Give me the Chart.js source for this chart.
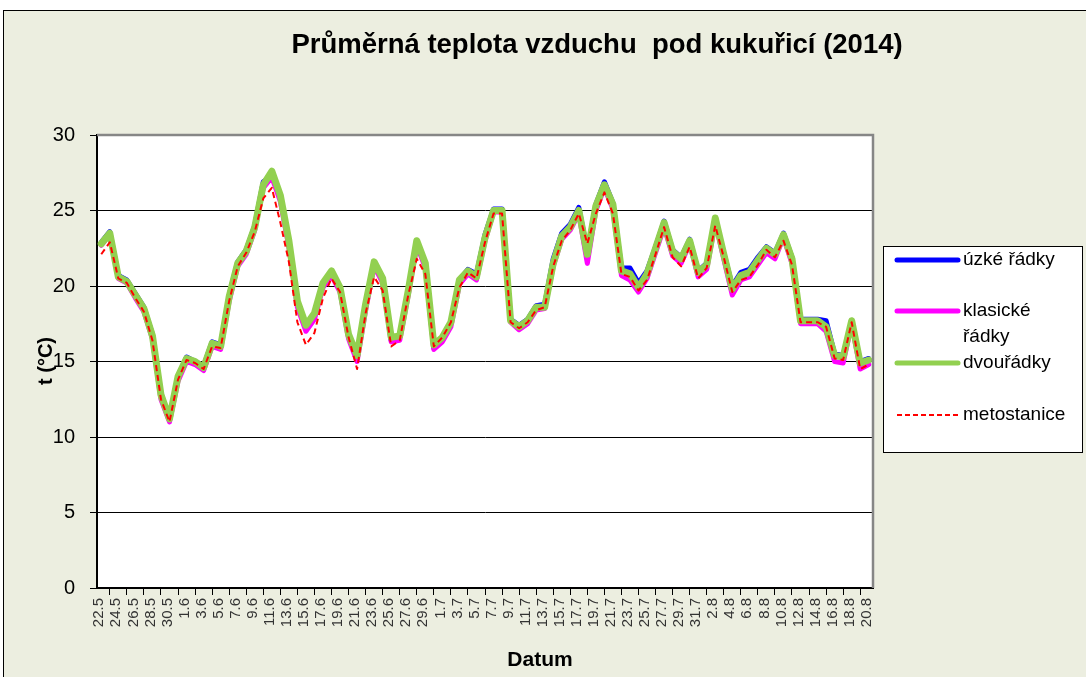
<!DOCTYPE html>
<html lang="cs">
<head>
<meta charset="utf-8">
<title>Průměrná teplota vzduchu pod kukuřicí (2014)</title>
<script src="https://cdn.jsdelivr.net/npm/chart.js@4.4.1/dist/chart.umd.min.js"></script>
<style>
  html, body { margin: 0; padding: 0; background: #fff; }
  #frame { position: absolute; left: 3px; top: 10px; width: 1083px; height: 667px; background: #ECEEE0; border-top: 1px solid #000; border-left: 1px solid #000; box-sizing: border-box; }
  #chart { position: absolute; left: 0; top: 0; }
</style>
</head>
<body>
<div id="frame"></div>
<canvas id="chart" width="1086" height="677"></canvas>
<script>
// ==================== DATA ====================
const dates = [
  '22.5','23.5','24.5','25.5','26.5','27.5','28.5','29.5','30.5','31.5',
  '1.6','2.6','3.6','4.6','5.6','6.6','7.6','8.6','9.6','10.6',
  '11.6','12.6','13.6','14.6','15.6','16.6','17.6','18.6','19.6','20.6',
  '21.6','22.6','23.6','24.6','25.6','26.6','27.6','28.6','29.6','30.6',
  '1.7','2.7','3.7','4.7','5.7','6.7','7.7','8.7','9.7','10.7',
  '11.7','12.7','13.7','14.7','15.7','16.7','17.7','18.7','19.7','20.7',
  '21.7','22.7','23.7','24.7','25.7','26.7','27.7','28.7','29.7','30.7',
  '31.7','1.8','2.8','3.8','4.8','5.8','6.8','7.8','8.8','9.8',
  '10.8','11.8','12.8','13.8','14.8','15.8','16.8','17.8','18.8','19.8',
  '20.8'
];

const uzkeRadky = [
  22.9, 23.6, 20.7, 20.4, 19.5, 18.6, 16.8, 12.9, 11.2, 14.0,
  15.3, 15.0, 14.7, 16.3, 16.1, 19.4, 21.6, 22.4, 24.0, 26.9,
  27.3, 25.9, 22.9, 18.9, 17.2, 18.0, 20.1, 20.9, 19.8, 16.7,
  15.2, 18.6, 21.5, 20.4, 16.4, 16.6, 19.6, 22.9, 21.4, 15.9,
  16.5, 17.6, 20.4, 21.1, 20.8, 23.4, 25.1, 25.1, 17.8, 17.4,
  17.8, 18.7, 18.8, 21.8, 23.5, 24.1, 25.2, 22.3, 25.4, 26.9,
  25.5, 21.2, 21.2, 20.2, 21.0, 22.6, 24.3, 22.4, 21.9, 23.1,
  21.0, 21.5, 24.5, 22.2, 20.0, 20.9, 21.1, 21.9, 22.6, 22.2,
  23.5, 21.9, 17.8, 17.8, 17.8, 17.7, 15.5, 15.4, 17.7, 15.0,
  15.2
];

const klasickeRadky = [
  22.7, 23.4, 20.5, 20.2, 19.2, 18.3, 16.5, 12.5, 11.0, 13.7,
  15.0, 14.8, 14.4, 16.0, 15.8, 19.0, 21.3, 22.1, 23.7, 26.5,
  27.2, 25.6, 22.6, 18.6, 17.0, 17.8, 19.9, 20.7, 19.6, 16.5,
  15.0, 18.4, 21.3, 20.2, 16.3, 16.4, 19.4, 22.7, 21.2, 15.8,
  16.3, 17.3, 20.1, 20.8, 20.4, 23.0, 24.9, 24.9, 17.6, 17.1,
  17.5, 18.4, 18.5, 21.3, 23.1, 23.7, 24.8, 21.5, 25.0, 26.5,
  25.1, 20.7, 20.4, 19.6, 20.5, 22.2, 23.9, 22.0, 21.5, 22.8,
  20.6, 21.1, 24.2, 21.8, 19.4, 20.4, 20.6, 21.4, 22.2, 21.8,
  23.2, 21.5, 17.5, 17.5, 17.5, 17.0, 15.0, 14.9, 17.5, 14.5,
  14.8
];

const dvouradky = [
  22.8, 23.5, 20.6, 20.3, 19.4, 18.5, 16.7, 12.8, 11.2, 14.0,
  15.2, 15.0, 14.6, 16.2, 16.0, 19.3, 21.5, 22.3, 23.9, 26.7,
  27.6, 26.0, 23.0, 19.0, 17.4, 18.2, 20.2, 21.0, 19.9, 16.8,
  15.4, 18.8, 21.6, 20.5, 16.6, 16.7, 19.7, 23.0, 21.5, 16.1,
  16.6, 17.6, 20.4, 21.0, 20.6, 23.2, 25.0, 25.0, 17.7, 17.3,
  17.7, 18.6, 18.6, 21.5, 23.3, 23.9, 25.0, 22.1, 25.3, 26.7,
  25.4, 21.0, 20.8, 19.9, 20.8, 22.5, 24.2, 22.3, 21.8, 23.0,
  20.9, 21.4, 24.5, 22.1, 19.8, 20.7, 20.9, 21.7, 22.5, 22.1,
  23.4, 21.8, 17.7, 17.7, 17.7, 17.3, 15.4, 15.3, 17.7, 14.9,
  15.1
];

const metostanice = [
  22.1, 22.9, 20.5, 20.2, 19.2, 18.3, 16.4, 12.5, 11.0, 13.8,
  15.1, 14.9, 14.5, 16.0, 15.9, 19.0, 21.3, 22.2, 23.6, 25.8,
  26.5, 24.2, 21.6, 17.6, 16.1, 16.9, 19.2, 20.5, 19.6, 16.6,
  14.5, 18.2, 20.6, 19.7, 16.0, 16.4, 19.4, 21.8, 20.8, 16.0,
  16.6, 17.6, 19.9, 20.9, 20.5, 22.9, 24.8, 24.8, 17.6, 17.2,
  17.6, 18.4, 18.6, 21.3, 23.0, 23.7, 24.8, 22.8, 24.8, 26.2,
  24.8, 20.8, 20.6, 19.7, 20.4, 22.1, 23.9, 21.9, 21.3, 22.6,
  20.5, 21.2, 24.0, 21.9, 19.6, 20.4, 20.6, 21.4, 22.4, 21.9,
  23.0, 21.4, 17.6, 17.6, 17.6, 17.3, 15.2, 15.1, 17.6, 14.5,
  14.8
];

const yTicks = [0, 5, 10, 15, 20, 25, 30];

const chartTitle = 'Průměrná teplota vzduchu  pod kukuřicí (2014)';
const xTitle = 'Datum';
const yTitle = 't (°C)';

const FONT = '"Liberation Sans", Arial, sans-serif';

// ==================== DATASETS ====================
const series = [
  { label: 'úzké řádky', data: uzkeRadky, borderColor: '#0000FF', borderWidth: 5, order: 3 },
  { label: 'klasické řádky', data: klasickeRadky, borderColor: '#FF00FF', borderWidth: 5, order: 2 },
  { label: 'dvouřádky', data: dvouradky, borderColor: '#92D050', borderWidth: 7, order: 1 },
  { label: 'metostanice', data: metostanice, borderColor: '#FF0000', borderWidth: 2, borderDash: [6, 4], order: 0 }
];

const datasets = series.map(s => ({
  ...s,
  fill: false,
  pointRadius: 0,
  tension: 0,
  borderJoinStyle: 'round',
  borderCapStyle: s.borderDash ? 'butt' : 'round'
}));

// legend rows: series index, text lines, y
const legendRows = [
  { idx: 0, lines: ['úzké řádky'], y: 260 },
  { idx: 1, lines: ['klasické', 'řádky'], y: 311 },
  { idx: 2, lines: ['dvouřádky'], y: 363 },
  { idx: 3, lines: ['metostanice'], y: 415 }
];

// ==================== DECOR ====================
const decorPlugin = {
  id: 'decor',
  beforeDraw(chart) {
    const { ctx, chartArea: a } = chart;
    ctx.save();
    ctx.fillStyle = '#fff';
    ctx.fillRect(a.left, a.top, a.right - a.left, a.bottom - a.top);
    ctx.restore();
  },
  afterDraw(chart) {
    const { ctx, chartArea: a } = chart;
    ctx.save();

    // grey frame on top and right of plot area
    ctx.strokeStyle = '#868686';
    ctx.lineWidth = 2.5;
    ctx.beginPath();
    ctx.moveTo(a.left, a.top);
    ctx.lineTo(a.right, a.top);
    ctx.lineTo(a.right, a.bottom);
    ctx.stroke();

    // titles
    ctx.fillStyle = '#000';
    ctx.textAlign = 'center';
    ctx.textBaseline = 'middle';
    ctx.font = 'bold 27.5px ' + FONT;
    ctx.fillText(chartTitle, 597, 45);
    ctx.font = 'bold 21px ' + FONT;
    ctx.fillText(xTitle, 540, 660);
    ctx.save();
    ctx.translate(46, 361);
    ctx.rotate(-Math.PI / 2);
    ctx.font = 'bold 20px ' + FONT;
    ctx.fillText(yTitle, 0, 0);
    ctx.restore();

    // legend box
    ctx.fillStyle = '#fff';
    ctx.fillRect(883, 246, 199, 206);
    ctx.strokeStyle = '#000';
    ctx.lineWidth = 1;
    ctx.strokeRect(883.5, 246.5, 199, 206);

    legendRows.forEach(r => {
      const ds = datasets[r.idx];
      ctx.save();
      ctx.strokeStyle = ds.borderColor;
      ctx.lineWidth = ds.borderDash ? 2 : 5;
      ctx.lineCap = ds.borderDash ? 'butt' : 'round';
      ctx.setLineDash(ds.borderDash ? [5, 3] : []);
      ctx.beginPath();
      ctx.moveTo(897, r.y);
      ctx.lineTo(958, r.y);
      ctx.stroke();
      ctx.restore();

      ctx.fillStyle = '#000';
      ctx.textAlign = 'left';
      ctx.textBaseline = 'middle';
      ctx.font = '19px ' + FONT;
      r.lines.forEach((t, k) => ctx.fillText(t, 963, r.y + k * 26));
    });

    ctx.restore();
  }
};

// ==================== CHART ====================
new Chart(document.getElementById('chart').getContext('2d'), {
  type: 'line',
  data: { labels: dates, datasets },
  options: {
    responsive: false,
    devicePixelRatio: 1,
    animation: false,
    layout: { padding: { top: 135, right: 213, left: 0, bottom: 0 } },
    plugins: {
      legend: { display: false },
      title: { display: false },
      tooltip: { enabled: false }
    },
    scales: {
      x: {
        type: 'category',
        offset: true,
        afterFit: s => { s.height = 89; },
        grid: { display: true, offset: true, drawOnChartArea: false, drawTicks: true, tickLength: 7, color: '#000', lineWidth: 1 },
        border: { display: true, color: '#000', width: 2 },
        ticks: {
          autoSkip: false,
          maxRotation: 90,
          minRotation: 90,
          padding: 3,
          labelOffset: -2,
          color: '#333',
          font: { family: FONT, size: 15 },
          callback: (v, i) => (i % 2 === 0 ? dates[i] : null)
        }
      },
      y: {
        min: 0,
        max: 30,
        afterFit: s => { s.width = 97; },
        afterBuildTicks: s => { s.ticks = yTicks.map(v => ({ value: v })); },
        grid: { color: '#000', lineWidth: 1, tickLength: 7, drawTicks: true },
        border: { display: true, color: '#000', width: 2 },
        ticks: {
          padding: 15,
          color: '#000',
          font: { family: FONT, size: 20 }
        }
      }
    }
  },
  plugins: [decorPlugin]
});
</script>
</body>
</html>
